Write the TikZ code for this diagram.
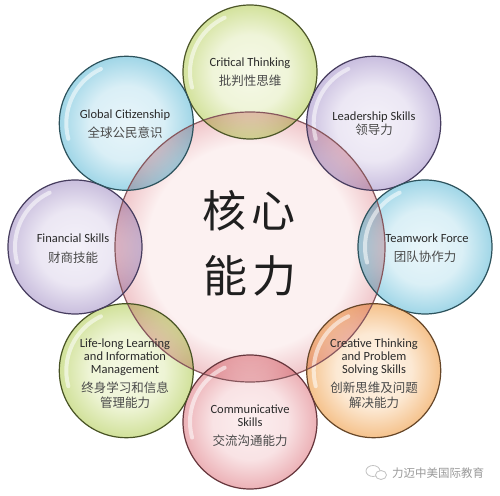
\documentclass[tikz,border=0pt]{standalone}
\usepackage{fontspec}
\setmainfont{Carlito}
\newfontfamily\cjk{Noto Sans CJK SC}
\definecolor{ctIn}{HTML}{F6F9E8}\definecolor{ctOut}{HTML}{D3E29C}\definecolor{ctBd}{HTML}{4C5628}
\definecolor{lsIn}{HTML}{F4F1F9}\definecolor{lsOut}{HTML}{C9BEDF}\definecolor{lsBd}{HTML}{463C5E}
\definecolor{twIn}{HTML}{E9F6FA}\definecolor{twOut}{HTML}{A0D6E7}\definecolor{twBd}{HTML}{2C525C}
\definecolor{crIn}{HTML}{FEF3E6}\definecolor{crOut}{HTML}{F5C28C}\definecolor{crBd}{HTML}{664628}
\definecolor{cmIn}{HTML}{FCEFF0}\definecolor{cmOut}{HTML}{ECB1B6}\definecolor{cmBd}{HTML}{66363C}
\definecolor{llIn}{HTML}{F5F9E4}\definecolor{llOut}{HTML}{D1E19A}\definecolor{llBd}{HTML}{485324}
\definecolor{fsIn}{HTML}{F4F1F9}\definecolor{fsOut}{HTML}{C9BEDD}\definecolor{fsBd}{HTML}{463C5E}
\definecolor{gcIn}{HTML}{E8F5FA}\definecolor{gcOut}{HTML}{A0D6E7}\definecolor{gcBd}{HTML}{2C525C}
\definecolor{ceIn}{HTML}{FCF1F1}\definecolor{ceOut}{HTML}{F0C6CA}\definecolor{ceBd}{HTML}{87575D}
\definecolor{enc}{HTML}{2A2A2A}\definecolor{zhc}{HTML}{4A4A4A}\definecolor{wmc}{HTML}{9A9A9A}
\newcommand\mkbubble[1]{\pgfdeclareradialshading{bub#1}{\pgfpoint{0bp}{0bp}}{color(0bp)=(#1In); color(14bp)=(#1In!80!#1Out); color(25bp)=(#1Out); color(50bp)=(#1Out)}}
\mkbubble{ct}\mkbubble{ls}\mkbubble{tw}\mkbubble{cr}\mkbubble{cm}\mkbubble{ll}\mkbubble{fs}\mkbubble{gc}
\pgfdeclareradialshading{bubce}{\pgfpoint{0bp}{0bp}}{color(0bp)=(ceIn); color(19bp)=(ceIn); color(25bp)=(ceOut); color(50bp)=(ceOut)}
\begin{document}
\begin{tikzpicture}[x=1pt,y=1pt,
  bubble/.style={circle, minimum size=134pt, inner sep=0pt, shade, shading=bub#1},
  en/.style={font=\fontsize{12.5}{13}\selectfont, text=enc, align=center, inner sep=0pt},
  zh/.style={font=\cjk\fontsize{12.5}{15}\selectfont, text=zhc, align=center, inner sep=0pt},
  big/.style={font=\cjk\fontsize{44}{48}\selectfont, text=black!88, inner sep=0pt},
  rim/.style={draw=#1, line width=1.2pt},
  shine/.style={draw=white, line width=4pt, line cap=round, opacity=0.55}]
\useasboundingbox[fill=white] (0,0) rectangle (500,495);
% central circle
\node[circle, minimum size=270pt, inner sep=0pt, shade, shading=bubce] (ce) at (250,248) {};
% outer bubbles
\begin{scope}[blend mode=multiply]
\node[bubble=ct] (ct) at (250,423) {};
\node[bubble=ls] (ls) at (373.7,371.7) {};
\node[bubble=tw] (tw) at (425,248) {};
\node[bubble=cr] (cr) at (373.7,124.3) {};
\node[bubble=cm] (cm) at (250,73) {};
\node[bubble=ll] (ll) at (126.3,124.3) {};
\node[bubble=fs] (fs) at (75,248) {};
\node[bubble=gc] (gc) at (126.3,371.7) {};
\end{scope}
% highlights
\foreach \n in {ct,ls,tw,cr,cm,ll,fs,gc}{
  \draw[shine] (\n.center) ++(115:60pt) arc[start angle=115, end angle=195, radius=60pt];
}
% rims
\draw[rim=ceBd] (ce.center) circle (135pt);
\draw[rim=ctBd] (ct.center) circle (67pt);
\draw[rim=lsBd] (ls.center) circle (67pt);
\draw[rim=twBd] (tw.center) circle (67pt);
\draw[rim=crBd] (cr.center) circle (67pt);
\draw[rim=cmBd] (cm.center) circle (67pt);
\draw[rim=llBd] (ll.center) circle (67pt);
\draw[rim=fsBd] (fs.center) circle (67pt);
\draw[rim=gcBd] (gc.center) circle (67pt);
% texts
\node[big] (t1) at (249,284) {核\hspace{6pt}心};
\node[big] (t2) at (250,219) {能\hspace{6pt}力};
\node[en] (ctE) at (250,432) {Critical Thinking};
\node[zh] (ctZ) at (250,414) {批判性思维};
\node[en] (lsE) at (374,378) {Leadership Skills};
\node[zh] (lsZ) at (374,365) {领导力};
\node[en] (twE) at (427,257) {Teamwork Force};
\node[zh] (twZ) at (425,238) {团队协作力};
\node[en] (crE) at (374,138) {Creative Thinking\\and Problem\\Solving Skills};
\node[zh] (crZ) at (374,99.5) {创新思维及问题\\解决能力};
\node[en] (cmE) at (250,79.5) {Communicative\\Skills};
\node[zh] (cmZ) at (250,54) {交流沟通能力};
\node[en] (llE) at (125,138) {Life-long Learning\\and Information\\Management};
\node[zh] (llZ) at (125,99.5) {终身学习和信息\\管理能力};
\node[en] (fsE) at (73,257) {Financial Skills};
\node[zh] (fsZ) at (73,237) {财商技能};
\node[en] (gcE) at (125,380) {Global Citizenship};
\node[zh] (gcZ) at (125,362) {全球公民意识};
% watermark
\draw[draw=wmc!60, line width=0.8pt] (373,24) ellipse (7pt and 5.5pt);
\draw[draw=wmc!60, line width=0.8pt, fill=white] (381,20) ellipse (5.5pt and 4.5pt);
\node[font=\cjk\fontsize{11.5}{12}\selectfont, text=wmc, inner sep=0pt] (wm) at (438,22) {力迈中美国际教育};
\end{tikzpicture}
\end{document}
